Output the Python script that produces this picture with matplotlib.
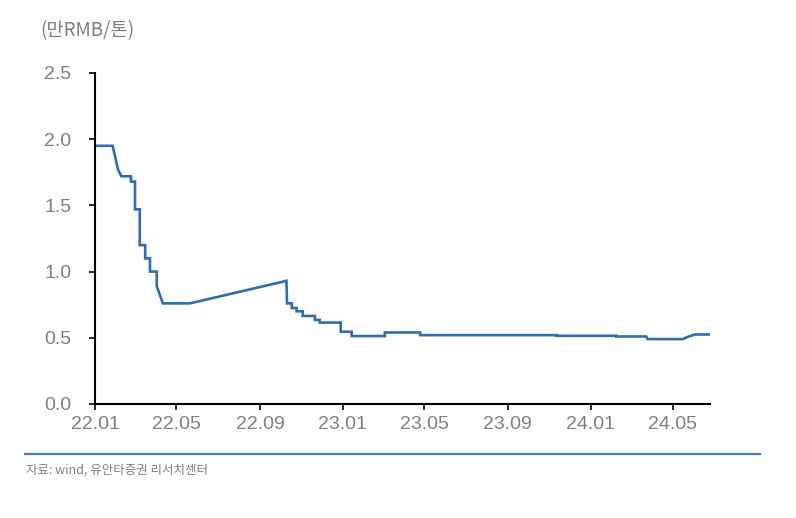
import matplotlib
matplotlib.use('Agg')
import matplotlib.pyplot as plt
import pandas as pd

plt.rcParams['font.family'] = ['Liberation Sans Narrow', 'Liberation Sans', 'Noto Sans CJK KR', 'DejaVu Sans']

# price, 만RMB/톤 (repeated dates are step changes)
dates = ['2022-01-01', '2022-01-27', '2022-02-04', '2022-02-09', '2022-02-23', '2022-02-23',
         '2022-03-01', '2022-03-01', '2022-03-08', '2022-03-08', '2022-03-16', '2022-03-16',
         '2022-03-23', '2022-03-23', '2022-04-02', '2022-04-02', '2022-04-11', '2022-05-21',
         '2022-10-10', '2022-10-11', '2022-10-18', '2022-10-18', '2022-10-25', '2022-10-25',
         '2022-11-03', '2022-11-03', '2022-11-21', '2022-11-21', '2022-11-28', '2022-11-28',
         '2022-12-29', '2022-12-29', '2023-01-14', '2023-01-14', '2023-03-04', '2023-03-04',
         '2023-04-25', '2023-04-25', '2023-11-12', '2023-11-12', '2024-02-08', '2024-02-08',
         '2024-03-23', '2024-03-25', '2024-05-16', '2024-05-22', '2024-06-03', '2024-06-25']
prices = [1.95, 1.95, 1.77, 1.72, 1.72, 1.68,
          1.68, 1.47, 1.47, 1.20, 1.20, 1.10,
          1.10, 1.00, 1.00, 0.89, 0.76, 0.76,
          0.93, 0.76, 0.76, 0.725, 0.725, 0.70,
          0.70, 0.665, 0.665, 0.635, 0.635, 0.615,
          0.615, 0.546, 0.546, 0.513, 0.513, 0.54,
          0.54, 0.52, 0.52, 0.515, 0.515, 0.51,
          0.51, 0.49, 0.49, 0.505, 0.525, 0.525]
tick_dates = ['2022-01-01', '2022-05-01', '2022-09-01', '2023-01-01',
              '2023-05-01', '2023-09-01', '2024-01-01', '2024-05-01']
tick_labels = ['22.01', '22.05', '22.09', '23.01', '23.05', '23.09', '24.01', '24.05']
y_ticks = [0.0, 0.5, 1.0, 1.5, 2.0, 2.5]

grey = '#7f7f7f'
fig = plt.figure(figsize=(7.96, 5.18), dpi=100)
ax = fig.add_axes([0.1193, 0.2201, 0.7727, 0.6390])

ax.plot(pd.to_datetime(dates), prices, color='#2e6db4', linewidth=1.9, solid_joinstyle='miter')

ax.set_xlim(pd.Timestamp('2022-01-01'), pd.Timestamp('2024-06-25'))
ax.set_ylim(0, 2.5)
ax.set_yticks(y_ticks)
ax.set_yticklabels(['%.1f' % v for v in y_ticks])
ax.set_xticks(pd.to_datetime(tick_dates))
ax.set_xticklabels(tick_labels)

for s in ['top', 'right']:
    ax.spines[s].set_visible(False)
for s in ['left', 'bottom']:
    ax.spines[s].set_linewidth(1.5)
    ax.spines[s].set_color('black')
ax.tick_params(axis='both', direction='out', length=4, width=1.2, color='black',
               labelcolor=grey, labelsize=14)
ax.tick_params(axis='y', pad=13)
ax.tick_params(axis='x', pad=5)

fig.text(0.050, 0.940, '(만RMB/톤)', color=grey, fontsize=13.5,
         family=['Noto Sans CJK KR', 'DejaVu Sans'], va='center', ha='left')

fig.add_artist(plt.Line2D([0.031, 0.955], [0.124, 0.124], color='#4a7ebb', linewidth=1.6))
fig.text(0.033, 0.093, '자료: wind, 유안타증권 리서치센터', color=grey, fontsize=9,
         family=['Noto Sans CJK KR', 'DejaVu Sans'], va='center', ha='left')

fig.savefig('out.png', dpi=100)
